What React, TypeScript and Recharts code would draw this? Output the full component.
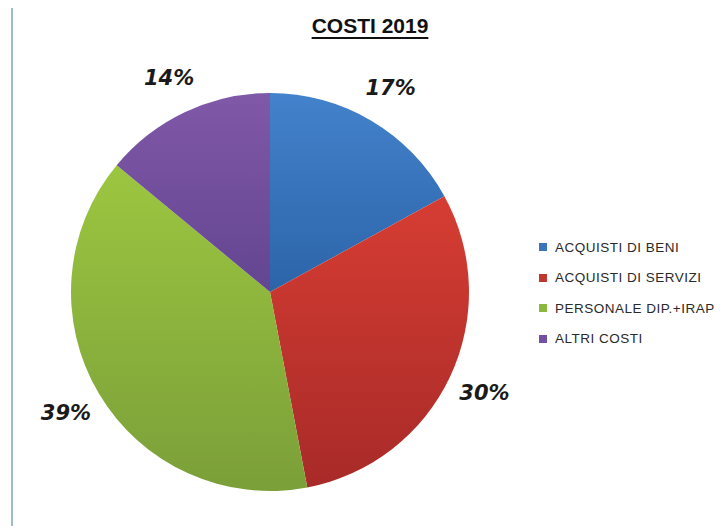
import { Cell, Legend, Pie, PieChart } from "recharts";

const categories = ["ACQUISTI DI BENI", "ACQUISTI DI SERVIZI", "PERSONALE DIP.+IRAP", "ALTRI COSTI"];
const shares = [17, 30, 39, 14];
const sliceColors = [
  ["#4382cc", "#2c64a8"],
  ["#d63d33", "#a82a28"],
  ["#9cc640", "#7b9f39"],
  ["#8058a8", "#634590"],
];
const legendColors = ["#3a74bc", "#c0372f", "#8ab83c", "#7450a0"];

const data = categories.map((name, i) => ({ name, value: shares[i] }));

const RADIAN = Math.PI / 180;

function renderLabel(props: any) {
  const { cx, cy, midAngle, outerRadius, value } = props;
  const r = outerRadius + 38;
  const x = cx + r * Math.cos(-midAngle * RADIAN);
  const y = cy + r * Math.sin(-midAngle * RADIAN);
  return (
    <text
      x={x}
      y={y}
      textAnchor="middle"
      dominantBaseline="central"
      fill="#1a1a1a"
      fontFamily="DejaVu Sans"
      fontSize={21}
      fontWeight="bold"
      fontStyle="italic"
    >
      {`${value}%`}
    </text>
  );
}

function CostLegend() {
  return (
    <div style={{ fontFamily: "Liberation Sans", fontSize: 13.5, color: "#2a2a2a", letterSpacing: 0.5 }}>
      {categories.map((name, i) => (
        <div key={name} style={{ display: "flex", alignItems: "center", height: 30.5 }}>
          <span
            style={{
              width: 8,
              height: 8,
              background: legendColors[i],
              marginRight: 8,
              display: "inline-block",
            }}
          />
          <span>{name}</span>
        </div>
      ))}
    </div>
  );
}

export default function App() {
  return (
    <div style={{ position: "absolute", left: 0, top: 0, width: 725, height: 526, background: "#fff" }}>
      <div
        style={{
          position: "absolute",
          left: 11,
          top: 8,
          width: 2,
          height: 518,
          background: "#9dbccf",
        }}
      />
      <div
        style={{
          position: "absolute",
          left: 0,
          width: 740,
          top: 14,
          textAlign: "center",
          fontFamily: "Liberation Sans",
          fontWeight: "bold",
          fontSize: 21,
          color: "#111",
          textDecoration: "underline",
          textUnderlineOffset: 4,
        }}
      >
        COSTI 2019
      </div>
      <PieChart
        width={725}
        height={526}
        margin={{ top: 0, right: 0, bottom: 0, left: 0 }}
        style={{ position: "absolute", left: 0, top: 0 }}
      >
        <defs>
          {sliceColors.map((c, i) => (
            <linearGradient key={i} id={`slice${i}`} x1="0" y1="0" x2="0" y2="1">
              <stop offset="0%" stopColor={c[0]} />
              <stop offset="100%" stopColor={c[1]} />
            </linearGradient>
          ))}
        </defs>
        <Pie
          data={data}
          dataKey="value"
          nameKey="name"
          cx={270}
          cy={292}
          outerRadius={199}
          startAngle={90}
          endAngle={-270}
          stroke="none"
          label={renderLabel}
          labelLine={false}
          isAnimationActive={false}
        >
          {data.map((d, i) => (
            <Cell key={d.name} fill={`url(#slice${i})`} />
          ))}
        </Pie>
        <Legend
          content={<CostLegend />}
          wrapperStyle={{ position: "absolute", left: 539, top: 232, width: 190 }}
        />
      </PieChart>
    </div>
  );
}
